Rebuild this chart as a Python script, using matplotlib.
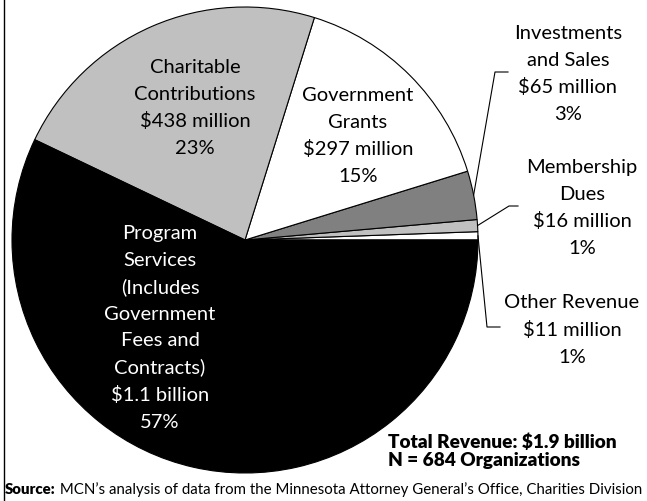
import matplotlib
matplotlib.use("Agg")
import matplotlib.pyplot as plt
import numpy as np

# Revenue sources, in drawing order (counterclockwise from 3 o'clock), $ millions
categories = ["Other Revenue", "Membership\nDues", "Investments\nand Sales",
              "Government\nGrants", "Charitable\nContributions",
              "Program\nServices\n(Includes\nGovernment\nFees and\nContracts)"]
values = [11, 16, 65, 297, 438, 1100]
amount_labels = ["$11 million", "$16 million", "$65 million",
                 "$297 million", "$438 million", "$1.1 billion"]
colors = ["#ffffff", "#c0c0c0", "#808080", "#ffffff", "#c0c0c0", "#000000"]
text_colors = ["black", "black", "black", "black", "black", "white"]

n_orgs = 684
total = sum(values)
shares = [round(100 * v / total) for v in values]

W, H = 647, 502
fig = plt.figure(figsize=(W / 100, H / 100), dpi=100)
ax = fig.add_axes([0, 0, 1, 1])

FONT = ["Lato", "DejaVu Sans"]

cx, cy, r = 245, H - 241, 233
wedges, _ = ax.pie(values, colors=colors, startangle=0, counterclock=True,
                   center=(cx, cy), radius=r,
                   wedgeprops=dict(edgecolor="black", linewidth=0.8))
ax.set_xlim(0, W)
ax.set_ylim(0, H)
ax.set_aspect("equal")
ax.set_axis_off()

# label anchor points (x, y from top)
label_pos = [(572, 330), (582, 208), (568, 74), (358, 136), (195, 108), (160, 328)]
for i, (name, amt, pct) in enumerate(zip(categories, amount_labels, shares)):
    x, y = label_pos[i]
    ax.text(x, H - y, f"{name}\n{amt}\n{pct}%", ha="center", va="center",
            fontsize=14.5, linespacing=1.66, color=text_colors[i], family=FONT)

# leader lines for the three thin slices
def edge_point(w):
    a = np.deg2rad((w.theta1 + w.theta2) / 2)
    return cx + r * np.cos(a), cy + r * np.sin(a)

leaders = {2: [(495, 73), (508, 73)],
           1: [(509, 207), (518, 207)],
           0: [(487, 328), (500, 328)]}
for i, pts in leaders.items():
    x0, y0 = edge_point(wedges[i])
    xs = [x0] + [p[0] for p in pts]
    ys = [y0] + [H - p[1] for p in pts]
    ax.plot(xs, ys, color="black", lw=0.8)

ax.text(388, H - 451, f"Total Revenue: ${total/1000:.1f} billion\nN = {n_orgs} Organizations",
        ha="left", va="center", fontsize=13.7, fontweight="heavy",
        linespacing=1.1, family=FONT)

src = ax.text(5, H - 490, "Source:", ha="left", va="center", fontsize=10.8,
              fontweight="heavy", family=FONT)
ax.annotate(" MCN\u2019s analysis of data from the Minnesota Attorney General\u2019s Office, Charities Division",
            xy=(1, 0.5), xycoords=src, ha="left", va="center", fontsize=10.8,
            family=FONT)

# left frame rule
ax.plot([3.5, 3.5], [0, H], color="black", lw=1, clip_on=False)

fig.savefig("out.png", dpi=100)
